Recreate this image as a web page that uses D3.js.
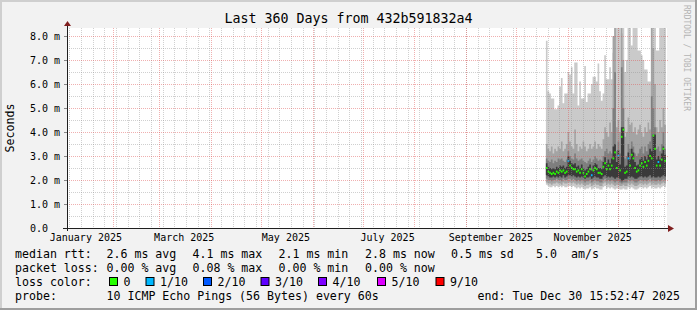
<!DOCTYPE html>
<html>
<head>
<meta charset="utf-8">
<script src="https://cdn.jsdelivr.net/npm/d3@7"></script>
<style>
body { margin: 0; background: #f2f2f2; }
svg { display: block; }
text { font-family: "DejaVu Sans Mono", monospace; fill: #000; }
</style>
</head>
<body>
<div id="chart"></div>
<script>
// one sample per day, Oct 19 .. Dec 29 2025
var days = d3.timeDay.range(new Date(2025, 9, 19), new Date(2025, 11, 30));

// sorted pings (ms): p1 lowest .. p10 highest
var p10 = [7.8,5.7,5.6,5.4,5.4,4.95,4.95,5.1,5.9,6.25,5.2,5.6,5.6,6.5,6.4,6.7,5.6,6.9,6.9,5.1,6.1,5.4,5.4,6.75,
           5.25,5.6,5.6,6.0,6.3,6.3,6.1,6.85,5.7,5.3,5.6,7.2,6.2,6.2,6.7,6.2,7.3,9,9,9,9,8.1,9,6.5,
           7.0,9,9,7.6,9,9,9,7.4,7.4,7.2,7.0,6.6,6.6,6.1,6.1,9,9,9,7.4,7.4,9,9,9,9];
var p9 = [3.5,3.3,3.2,3.4,3.1,3.3,3.2,3.4,3.3,3.6,3.2,3.3,3.5,4.0,3.6,3.4,3.3,4.1,3.5,3.2,3.4,3.3,3.6,3.4,
          3.2,3.3,3.5,3.3,3.4,3.6,3.3,3.5,3.4,3.3,3.7,4.2,4.0,3.8,4.4,4.0,8.0,9,4.2,4.5,4.0,9,7.0,3.8,
          4.0,4.6,4.3,4.4,4.0,4.2,3.9,4.1,4.3,4.0,3.8,4.2,4.0,4.4,4.1,9,7.5,6.0,4.2,4.0,4.5,4.2,5.0,4.3];
var p8 = [2.9,2.8,2.75,2.85,2.7,2.8,2.75,2.9,2.85,2.9,2.8,2.75,2.85,3.2,3.0,2.9,2.85,3.1,2.9,2.8,2.85,2.9,2.8,2.75,
          2.7,2.8,2.9,2.75,2.85,3.0,2.9,2.8,2.85,2.8,3.0,3.2,3.3,3.1,3.2,3.1,5.0,6.5,3.2,3.6,3.1,6.7,5.0,2.9,
          3.0,3.5,3.3,3.6,3.4,3.1,3.0,3.1,3.3,3.4,3.1,3.4,3.2,3.5,3.6,5.5,5.0,4.2,3.3,3.4,3.2,3.5,4.0,3.3];
var p7 = [2.7,2.55,2.5,2.45,2.5,2.45,2.55,2.5,2.6,2.55,2.6,2.5,2.55,3.0,2.8,2.7,2.65,2.7,2.55,2.6,2.5,2.65,2.5,2.4,
          2.45,2.55,2.65,2.4,2.6,2.7,2.65,2.5,2.5,2.45,2.75,2.95,2.7,2.85,2.7,2.9,3.4,3.5,2.75,3.25,2.65,4.2,4.2,2.55,
          2.6,3.15,2.85,3.3,3.15,2.75,2.6,2.65,2.85,2.95,2.8,3.0,2.85,3.05,3.3,3.2,3.9,3.9,2.85,3.0,2.85,3.1,3.4,3.05];
var median = [2.5,2.35,2.3,2.25,2.3,2.25,2.35,2.3,2.4,2.35,2.4,2.3,2.35,2.8,2.6,2.5,2.45,2.45,2.35,2.4,2.3,2.45,2.3,2.15,
              2.25,2.35,2.45,2.2,2.4,2.5,2.45,2.3,2.3,2.25,2.55,2.7,2.45,2.6,2.45,2.6,2.9,3.15,2.5,3.0,2.4,3.8,4.1,2.3,
              2.35,2.9,2.6,3.05,2.9,2.5,2.35,2.4,2.6,2.7,2.55,2.75,2.6,2.8,3.0,2.9,3.85,3.3,2.6,2.75,2.6,2.85,3.3,2.8];
var p4 = [2.2,2.15,2.1,2.1,2.15,2.1,2.15,2.1,2.15,2.1,2.2,2.1,2.15,2.2,2.2,2.15,2.2,2.15,2.1,2.15,2.1,2.15,2.1,2.05,
          2.1,2.1,2.15,2.05,2.1,2.15,2.1,2.1,2.05,2.05,2.15,2.2,2.1,2.15,2.1,2.15,2.1,2.05,2.1,2.1,2.05,1.95,2.0,2.05,
          2.05,2.15,2.1,2.15,2.1,2.05,2.05,2.1,2.15,2.15,2.1,2.15,2.1,2.15,2.2,2.1,2.15,2.1,2.1,2.15,2.1,2.15,2.2,2.15];
var p3 = [2.05,2.0,2.0,1.95,2.0,2.0,2.05,2.0,2.0,1.95,2.05,2.0,2.0,2.05,2.05,2.0,2.05,2.0,1.95,2.0,1.95,2.0,1.95,1.9,
          1.95,1.95,2.0,1.9,1.95,2.0,1.95,1.95,1.9,1.9,2.0,2.05,1.95,2.0,1.95,2.0,1.95,1.9,1.95,1.95,1.9,1.85,1.9,1.9,
          1.9,2.0,1.95,2.0,1.95,1.9,1.9,1.95,2.0,2.0,1.95,2.0,1.95,2.0,2.05,1.95,2.0,1.95,1.95,2.0,1.95,2.0,2.05,2.0];
var p2 = [1.9,1.85,1.85,1.8,1.85,1.85,1.9,1.85,1.85,1.8,1.9,1.85,1.85,1.9,1.9,1.85,1.9,1.85,1.8,1.85,1.8,1.85,1.8,1.75,
          1.8,1.8,1.85,1.75,1.8,1.85,1.8,1.8,1.75,1.75,1.85,1.9,1.8,1.85,1.8,1.85,1.8,1.75,1.8,1.8,1.75,1.75,1.8,1.75,
          1.75,1.85,1.8,1.85,1.8,1.75,1.75,1.8,1.85,1.85,1.8,1.85,1.8,1.85,1.9,1.8,1.85,1.8,1.8,1.85,1.8,1.85,1.9,1.85];
var p1 = [1.8,1.75,1.7,1.7,1.75,1.7,1.75,1.7,1.75,1.7,1.75,1.7,1.7,1.75,1.75,1.7,1.75,1.7,1.65,1.7,1.65,1.7,1.65,1.6,
          1.65,1.65,1.7,1.6,1.65,1.7,1.65,1.65,1.6,1.6,1.7,1.75,1.65,1.7,1.65,1.7,1.65,1.6,1.65,1.65,1.6,1.6,1.65,1.6,
          1.6,1.7,1.65,1.7,1.65,1.6,1.6,1.65,1.7,1.7,1.65,1.7,1.65,1.7,1.75,1.65,1.7,1.65,1.65,1.7,1.65,1.7,1.75,1.7];
// loss class per day (index into lossLabels)
var loss = [0,0,0,0,0,0,0,0,0,0,0,0,0,1,0,0,0,0,0,0,0,0,0,0,
            0,0,0,1,0,0,0,0,0,0,0,0,0,0,0,0,0,0,0,1,0,0,0,0,
            0,1,0,0,0,0,0,0,0,0,0,0,0,0,0,0,0,0,0,1,0,0,0,0];

var lossLabels = ["0", "1/10", "2/10", "3/10", "4/10", "5/10", "9/10"];
var lossColors = ["#26ff00", "#00b8ff", "#0059ff", "#5e00ff", "#7e00ff", "#dd00ff", "#ff0000"];

var yTickValues = [0, 1, 2, 3, 4, 5, 6, 7, 8];
var yTickLabels = ["0.0", "1.0 m", "2.0 m", "3.0 m", "4.0 m", "5.0 m", "6.0 m", "7.0 m", "8.0 m"];

var rttStats = ["2.6 ms avg", "4.1 ms max", "2.1 ms min", "2.8 ms now", "0.5 ms sd"];
var lossStats = ["0.00 % avg", "0.08 % max", "0.00 % min", "0.00 % now"];

var title = "Last 360 Days from 432b591832a4";
var probe = "10 ICMP Echo Pings (56 Bytes) every 60s";
var endTime = new Date(2025, 11, 30, 15, 52, 47);
var startTime = new Date(endTime.getTime() - 360 * 86400000);

var W = 697, H = 310;
var plotLeft = 67, plotTop = 28, plotW = 600, plotH = 200;
var yMax = plotH / 24;

var svg = d3.select("#chart").append("svg").attr("width", W).attr("height", H);

// background + 3d shade frame
svg.append("rect").attr("width", W).attr("height", H).attr("fill", "#f2f2f2");
svg.append("rect").attr("x", 0).attr("y", 0).attr("width", W).attr("height", 2).attr("fill", "#cfcfcf");
svg.append("rect").attr("x", 0).attr("y", 0).attr("width", 2).attr("height", H).attr("fill", "#cfcfcf");
svg.append("rect").attr("x", 0).attr("y", H - 2).attr("width", W).attr("height", 2).attr("fill", "#9e9e9e");
svg.append("rect").attr("x", W - 2).attr("y", 0).attr("width", 2).attr("height", H).attr("fill", "#9e9e9e");

var x = d3.scaleTime().domain([startTime, endTime]).range([plotLeft, plotLeft + plotW]);
var y = d3.scaleLinear().domain([0, yMax]).range([plotTop + plotH, plotTop]);

svg.append("rect").attr("x", plotLeft).attr("y", plotTop).attr("width", plotW).attr("height", plotH).attr("fill", "#fff");

svg.append("defs").append("clipPath").attr("id", "plotclip")
  .append("rect").attr("x", plotLeft).attr("y", plotTop).attr("width", plotW).attr("height", plotH);

var rows = days.map(function(d, i) {
  return {t: d, v: [p1[i], p2[i], p3[i], p4[i], median[i], p7[i], p8[i], p9[i], p10[i]]};
});
// closing step point
rows.push({t: d3.timeDay.offset(days[days.length - 1], 1), v: rows[rows.length - 1].v});

var smoke = svg.append("g").attr("clip-path", "url(#plotclip)");
var bands = [[0, 8, "#cacaca"], [1, 7, "#a4a4a4"], [2, 6, "#7e7e7e"], [3, 5, "#3a3a3a"]];
bands.forEach(function(b) {
  var area = d3.area()
    .curve(d3.curveStepAfter)
    .x(function(d) { return x(d.t); })
    .y0(function(d) { return y(d.v[b[0]]); })
    .y1(function(d) { return y(Math.min(d.v[b[1]], yMax + 0.2)); });
  smoke.append("path").datum(rows).attr("d", area).attr("fill", b[2]);
});

// median marks coloured by loss
smoke.selectAll("rect.med")
  .data(days)
  .enter().append("rect")
  .attr("class", "med")
  .attr("x", function(d) { return x(d); })
  .attr("width", function(d) { return x(d3.timeDay.offset(d, 1)) - x(d); })
  .attr("y", function(d, i) { return y(median[i]) - 1; })
  .attr("height", 2)
  .attr("fill", function(d, i) { return lossColors[loss[i]]; });

// grid on top of the smoke
var grid = svg.append("g");
var minorColor = "rgba(143,143,143,0.42)";
var majorColor = "rgba(222,79,79,0.45)";

d3.range(0.5, yMax, 1).forEach(function(v) {
  grid.append("line").attr("x1", plotLeft).attr("x2", plotLeft + plotW)
    .attr("y1", Math.round(y(v)) + 0.5).attr("y2", Math.round(y(v)) + 0.5)
    .attr("stroke", minorColor).attr("stroke-dasharray", "1,1");
});
d3.timeMonday.range(startTime, endTime).forEach(function(t) {
  var px = Math.round(x(t)) + 0.5;
  grid.append("line").attr("x1", px).attr("x2", px).attr("y1", plotTop).attr("y2", plotTop + plotH)
    .attr("stroke", minorColor).attr("stroke-dasharray", "1,1");
});
d3.timeMonth.range(startTime, endTime).forEach(function(t) {
  var px = Math.round(x(t)) + 0.5;
  grid.append("line").attr("x1", px).attr("x2", px).attr("y1", plotTop).attr("y2", plotTop + plotH + 2)
    .attr("stroke", majorColor).attr("stroke-dasharray", "1,1");
});
yTickValues.forEach(function(v, i) {
  var py = Math.round(y(v)) + 0.5;
  if (v > 0) {
    grid.append("line").attr("x1", plotLeft).attr("x2", plotLeft + plotW + 2)
      .attr("y1", py).attr("y2", py)
      .attr("stroke", majorColor).attr("stroke-dasharray", "1,1");
  }
  grid.append("line").attr("x1", plotLeft - 3).attr("x2", plotLeft).attr("y1", py).attr("y2", py)
    .attr("stroke", "#888");
  svg.append("text").attr("x", 30).attr("y", y(v) + 3.5)
    .attr("font-size", "10px").text(yTickLabels[i]);
});

// x labels: every 2nd month, centred half a month after the tick
var fmt = d3.timeFormat("%B %Y");
d3.timeMonth.every(2).range(new Date(2025, 0, 1), endTime).forEach(function(t) {
  var cx = x(new Date(t.getTime() + 15 * 86400000));
  if (cx < plotLeft || cx > plotLeft + plotW) return;
  svg.append("text").attr("x", cx).attr("y", 241).attr("text-anchor", "middle")
    .attr("font-size", "10px").text(fmt(t));
});

// axes with arrows
var axisCol = "#1f1f1f", arrowCol = "#801f1f";
svg.append("line").attr("x1", plotLeft + 0.5).attr("x2", plotLeft + 0.5).attr("y1", plotTop + plotH + 3).attr("y2", plotTop - 4)
  .attr("stroke", axisCol);
svg.append("line").attr("x1", plotLeft - 4).attr("x2", plotLeft + plotW + 4).attr("y1", plotTop + plotH + 0.5).attr("y2", plotTop + plotH + 0.5)
  .attr("stroke", axisCol);
svg.append("path").attr("fill", arrowCol)
  .attr("d", "M" + (plotLeft - 3) + "," + (plotTop - 2) + "L" + (plotLeft + 4) + "," + (plotTop - 2) + "L" + (plotLeft + 0.5) + "," + (plotTop - 7) + "Z");
svg.append("path").attr("fill", arrowCol)
  .attr("d", "M" + (plotLeft + plotW + 1) + "," + (plotTop + plotH - 3) + "L" + (plotLeft + plotW + 1) + "," + (plotTop + plotH + 4) + "L" + (plotLeft + plotW + 7) + "," + (plotTop + plotH + 0.5) + "Z");

// title, unit, watermark
svg.append("text").attr("x", W / 2).attr("y", 23).attr("text-anchor", "middle")
  .attr("font-size", "13.3px").text(title);
svg.append("text").attr("transform", "translate(14," + (plotTop + plotH / 2) + ") rotate(-90)")
  .attr("text-anchor", "middle").attr("font-size", "11.6px").text("Seconds");
svg.append("text").attr("transform", "translate(684,5) rotate(90)")
  .attr("font-size", "8px").style("fill", "#b4b4b4").text("RRDTOOL / TOBI OETIKER");

// legend
var lg = svg.append("g").attr("font-size", "11.6px");
var statX = [106.5, 192.5, 278.5, 365, 451];
lg.append("text").attr("x", 15).attr("y", 258).text("median rtt:");
rttStats.forEach(function(s, i) { lg.append("text").attr("x", statX[i]).attr("y", 258).text(s); });
lg.append("text").attr("x", 536).attr("y", 258).text("5.0");
lg.append("text").attr("x", 571).attr("y", 258).text("am/s");

lg.append("text").attr("x", 15).attr("y", 272).text("packet loss:");
lossStats.forEach(function(s, i) { lg.append("text").attr("x", statX[i]).attr("y", 272).text(s); });

lg.append("text").attr("x", 15).attr("y", 286).text("loss color:");
var boxX = [109, 145.5, 203, 260.5, 318, 377, 435.5];
lossLabels.forEach(function(l, i) {
  lg.append("rect").attr("x", boxX[i] + 0.5).attr("y", 277.5).attr("width", 8).attr("height", 8)
    .attr("fill", lossColors[i]).attr("stroke", "#000");
  lg.append("text").attr("x", boxX[i] + 14.5).attr("y", 286).text(l);
});

lg.append("text").attr("x", 15).attr("y", 300).text("probe:");
lg.append("text").attr("x", 106.5).attr("y", 300).text(probe);
lg.append("text").attr("x", 477.5).attr("y", 300).text("end: " + d3.timeFormat("%a %b %d %H:%M:%S %Y")(endTime));
</script>
</body>
</html>
